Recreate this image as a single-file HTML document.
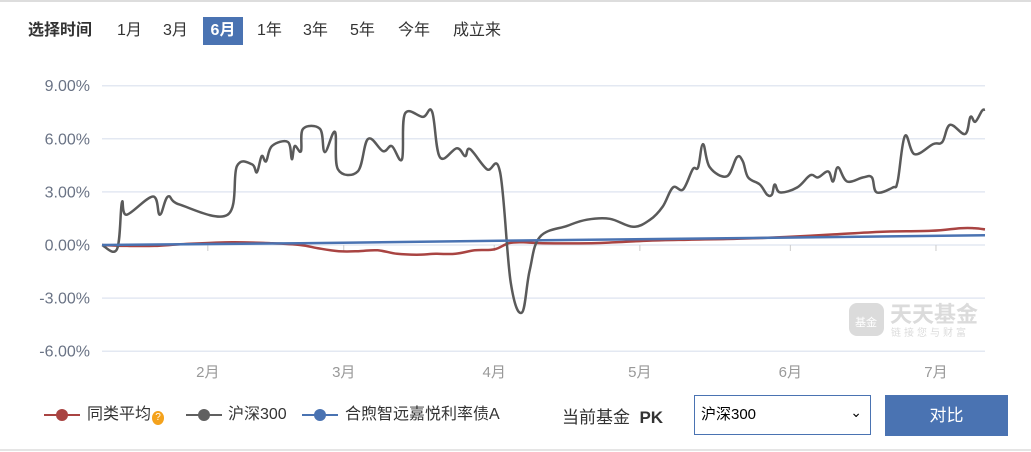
<!DOCTYPE html>
<html><head><meta charset="utf-8">
<style>
body{margin:0;width:1031px;height:452px;background:#fff;font-family:"Liberation Sans","Noto Sans CJK SC",sans-serif;overflow:hidden;position:relative}
.tab{position:absolute;top:17px;height:28px;line-height:28px;font-size:16px;color:#333}
.tab.lbl{font-weight:bold}
.tab.on{background:#4a73b2;color:#fff;font-weight:bold;width:40px;text-align:center}
.li{position:absolute;top:404px;font-size:16px;color:#333;line-height:22px;white-space:nowrap}
.mk{position:absolute;top:414px;height:2px}
.mk:after{content:"";position:absolute;left:50%;margin-left:-6px;top:-5px;width:12px;height:12px;border-radius:50%;background:inherit}
.q{display:inline-block;width:12px;height:14px;border-radius:50%;background:#f4a21c;color:#fff;font-size:10px;line-height:14px;text-align:center;margin-left:1px;vertical-align:-1px}
</style></head><body>
<div style="position:absolute;left:0;top:0;width:1031px;height:2px;background:#ddd"></div>
<div style="position:absolute;left:0;top:449px;width:1031px;height:2px;background:#e5e5e5"></div>
<span class="tab lbl" style="left:28px">选择时间</span>
<span class="tab" style="left:117px">1月</span>
<span class="tab" style="left:163px">3月</span>
<span class="tab on" style="left:203px">6月</span>
<span class="tab" style="left:257px">1年</span>
<span class="tab" style="left:303px">3年</span>
<span class="tab" style="left:350px">5年</span>
<span class="tab" style="left:398px">今年</span>
<span class="tab" style="left:453px">成立来</span>
<svg id="chart" width="1031" height="452" style="position:absolute;left:0;top:0">
<g id="wm" opacity="0.35">
<rect x="849" y="303" width="35" height="33" rx="8" fill="#999"/>
<text x="866" y="326" font-size="11" fill="#fff" text-anchor="middle" font-family="Noto Sans CJK SC,sans-serif">基金</text>
<text x="890" y="322" font-size="22" font-weight="bold" fill="#999" font-family="Noto Sans CJK SC,sans-serif">天天基金</text>
<text x="891" y="336" font-size="10" fill="#999" letter-spacing="3" font-family="Noto Sans CJK SC,sans-serif">链接您与财富</text>
</g>
</svg>
<div class="mk" style="left:44px;width:36px;background:#a94442"></div>
<div class="li" style="left:87px">同类平均<span class="q">?</span></div>
<div class="mk" style="left:186px;width:36px;background:#606060"></div>
<div class="li" style="left:228px">沪深300</div>
<div class="mk" style="left:302px;width:36px;background:#4a73b2"></div>
<div class="li" style="left:345px">合煦智远嘉悦利率债A</div>
<div style="position:absolute;left:562px;top:403px;font-size:17px;color:#333">当前基金&nbsp;&nbsp;<b>PK</b></div>
<div style="position:absolute;left:694px;top:395px;width:177px;height:40px;border:1px solid #4a73b2;box-sizing:border-box;font-size:15px;color:#000;line-height:38px;padding-left:6px">沪深300<span style="position:absolute;right:8px;top:-3px;font-size:14px">&#8964;</span></div>
<div style="position:absolute;left:885px;top:395px;width:123px;height:41px;background:#4a73b2;color:#fff;font-size:17px;text-align:center;line-height:41px">对比</div>
<script>
const yTicks=[9,6,3,0,-3,-6];
const monthLabels=["2月","3月","4月","5月","6月","7月"];
const monthDays=[31,59,90,120,151,181];
const csiDays=[9.2,12.3,13.3,14.3,19.7,21.1,22.8,25.2,35.1,37,40.1,41.1,42.1,43,44.2,47.5,48.3,48.9,50.2,50.6,54.1,55.1,57.2,57.8,61.9,64,67.1,68.9,71,71.6,75.3,77.2,78.8,82.3,84,85,88.5,91.2,93.4,95.7,97.3,99.4,105,109.1,113.8,118.6,122.1,124.7,126.8,128.9,130.9,132,133,134.4,137.9,140,141.2,142.3,144.7,146.2,147.2,147.8,148.9,152.4,155.1,156.7,158.8,159.8,160.8,162.7,166,167.8,168.8,172.1,173.1,174.6,176.6,180.4,182.3,183.9,187,188.1,189.1,190.5,191.1];
const csiVals=[0,-0.23,2.4,1.71,2.74,1.71,2.74,2.28,1.71,4.45,4.56,4.11,5.02,4.73,5.59,5.82,4.85,5.59,5.3,6.56,6.56,5.25,6.39,4.28,4.16,5.99,5.3,5.59,4.85,7.41,7.24,7.53,4.96,5.47,5.02,5.42,4.28,4.11,-2.11,-3.82,-1.43,0.46,1.08,1.43,1.48,1.03,1.43,2.17,3.25,3.14,4.28,4.39,5.7,4.39,3.88,4.96,4.73,3.82,3.42,2.85,2.85,3.42,2.97,3.25,3.94,3.82,4.16,3.59,4.39,3.59,3.82,3.82,2.97,3.25,3.59,6.16,5.13,5.7,5.82,6.79,6.27,7.24,6.96,7.59,7.64];
const peerDays=[9.2,14,20,26,36,44,50,54,58,62,66,70,74,78,82,86,90,93,96,100,110,115,122,130,140,150,160,170,180,186,189,191.1];
const peerVals=[0,-0.05,-0.05,0.05,0.15,0.1,0,-0.2,-0.35,-0.35,-0.3,-0.5,-0.55,-0.5,-0.5,-0.3,-0.25,0.1,0.15,0.1,0.1,0.15,0.25,0.3,0.35,0.45,0.6,0.75,0.8,0.95,0.95,0.88];
const fundDays=[9.2,50,100,150,191.1];
const fundVals=[0,0.1,0.27,0.42,0.55];
const NS="http://www.w3.org/2000/svg";
const svg=document.getElementById('chart');
const X0=102,X1=985,D0=9.2,D1=191.1;
const xs=d=>X0+(d-D0)*(X1-X0)/(D1-D0);
const ys=v=>245-v*53.1/3;
function mk(tag,attrs){const e=document.createElementNS(NS,tag);for(const k in attrs)e.setAttribute(k,attrs[k]);svg.insertBefore(e,document.getElementById('wm'));return e;}
yTicks.forEach(t=>{
 const g=mk('line',{x1:X0,x2:X1,y1:ys(t),y2:ys(t),stroke:'#e3e8f2','stroke-width':1.5});
 
 
 const l=mk('text',{x:90,y:ys(t)+5.5,'text-anchor':'end','font-size':16,fill:'#6a7385'});
 l.textContent=t.toFixed(2)+'%';
 
 
});
monthDays.forEach((d,i)=>{
 const tk=mk('line',{x1:xs(d),x2:xs(d),y1:245,y2:251,stroke:'#ccc'});
 
 
 const l=mk('text',{x:xs(d),y:377,'text-anchor':'middle','font-size':15,fill:'#999'});
 l.textContent=monthLabels[i];
 
 
});
function series(days,vals,color,name){
 const P=days.map((t,i)=>[xs(t),ys(vals[i])]);
 let d='M'+P[0][0].toFixed(1)+','+P[0][1].toFixed(1);
 for(let i=0;i<P.length-1;i++){
  const p0=P[Math.max(0,i-1)],p1=P[i],p2=P[i+1],p3=P[Math.min(P.length-1,i+2)];
  const t=0.18;
  const c1x=p1[0]+(p2[0]-p0[0])*t,c1y=p1[1]+(p2[1]-p0[1])*t;
  const c2x=p2[0]-(p3[0]-p1[0])*t,c2y=p2[1]-(p3[1]-p1[1])*t;
  d+='C'+c1x.toFixed(1)+','+c1y.toFixed(1)+' '+c2x.toFixed(1)+','+c2y.toFixed(1)+' '+p2[0].toFixed(1)+','+p2[1].toFixed(1);
 }
 const p=mk('path',{d:d,fill:'none',stroke:color,'stroke-width':2.5,'stroke-linejoin':'round'});
 
 
}
series(peerDays,peerVals,'#a94442','peer-average-line');
series(csiDays,csiVals,'#5a5a5a','csi300-line');
series(fundDays,fundVals,'#4a73b2','fund-line');
</script>
</body></html>
